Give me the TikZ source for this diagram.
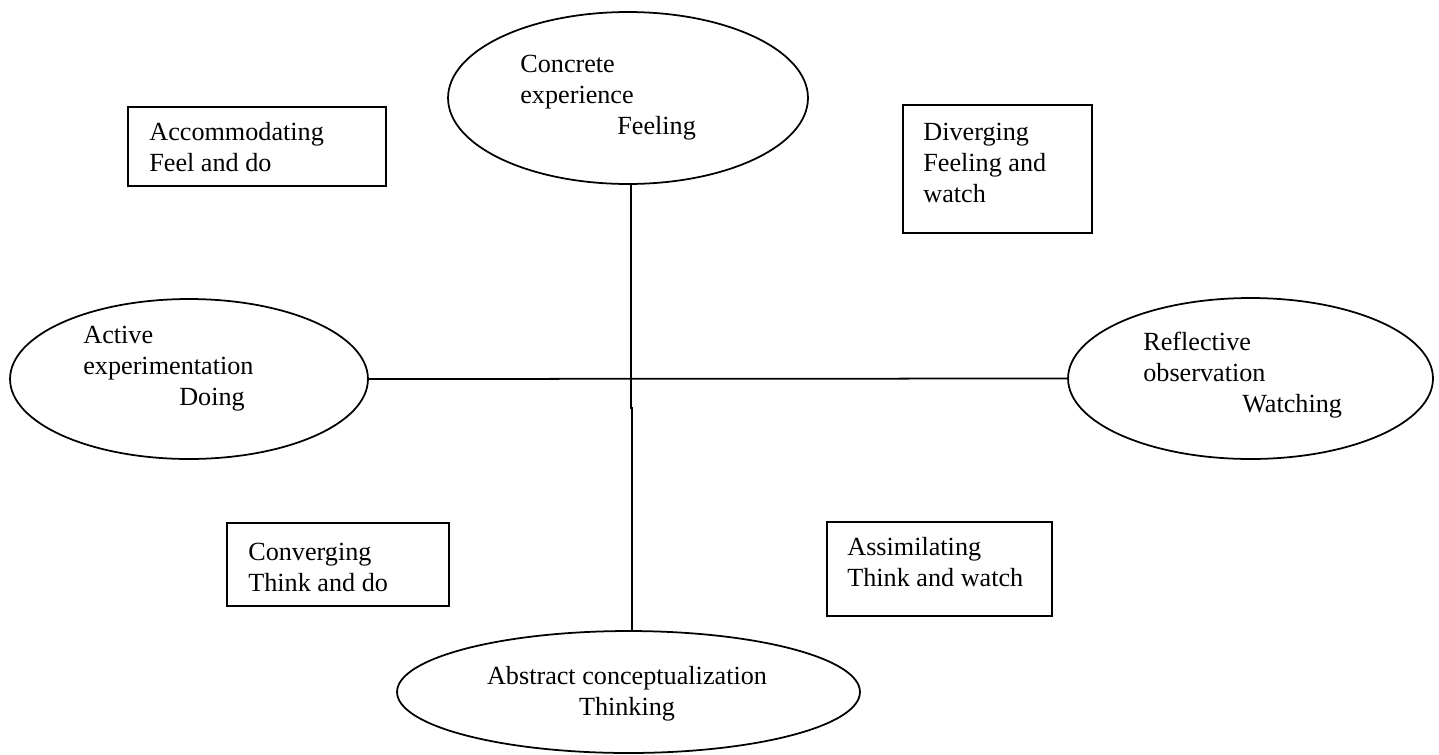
\documentclass[tikz,border=0pt]{standalone}
\usepackage{fontspec}
\setmainfont{Liberation Serif}
\usetikzlibrary{shapes.geometric}

\tikzset{
  stage/.style={draw, ellipse, line width=1pt, inner sep=0pt, outer sep=0pt},
  stylebox/.style={draw, rectangle, line width=1pt, inner sep=0pt, outer sep=0pt},
  txt/.style={font=\fontsize{14.9}{17.64}\selectfont, align=left, inner sep=0pt, anchor=north west},
  axis/.style={line width=1pt}
}

\begin{document}
\begin{tikzpicture}[x=0.02cm, y=-0.02cm]
\useasboundingbox (0,0) rectangle (1439,754);

% the four learning stages
\node[stage, minimum width=7.2cm,  minimum height=3.44cm] (ce) at (628,98) {};
\node[stage, minimum width=7.16cm, minimum height=3.2cm]  (ae) at (189,379) {};
\node[stage, minimum width=7.3cm,  minimum height=3.22cm] (ro) at (1250.5,378.5) {};
\node[stage, minimum width=9.26cm, minimum height=2.44cm] (ac) at (628.5,692) {};

\node[txt] (cet) at (520,50.35) {\strut Concrete\\experience\\\hspace*{1.94cm}Feeling};
\node[txt] (aet) at (83,321.35) {\strut Active\\experimentation\\\hspace*{1.92cm}Doing};
\node[txt] (rot) at (1143,328.35) {\strut Reflective\\observation\\\hspace*{1.98cm}Watching};
\node[txt, align=center, anchor=north] (act) at (627,662.35) {\strut Abstract conceptualization\\Thinking};

% the two axes
\draw[axis] (ae.east) -- (ro.west);
\coordinate (j1) at (631,409);
\coordinate (j2) at (632,407);
\draw[axis] (ce.south -| j1) -- (j1);
\draw[axis] (j2) -- (j2 |- ac.north);

% the four learning styles
\node[stylebox, minimum width=5.16cm, minimum height=1.58cm] (acc) at (257,146.5) {};
\node[stylebox, minimum width=3.78cm, minimum height=2.56cm] (div) at (997.5,169) {};
\node[stylebox, minimum width=4.44cm, minimum height=1.66cm] (con) at (338,564.5) {};
\node[stylebox, minimum width=4.5cm,  minimum height=1.88cm] (ass) at (939.5,569) {};

\node[txt] (acct) at (149,118.35) {\strut Accommodating\\Feel and do};
\node[txt] (divt) at (923,118.35) {\strut Diverging\\Feeling and\\watch};
\node[txt] (cont) at (248,538.35) {\strut Converging\\Think and do};
\node[txt] (asst) at (847,533.35) {\strut Assimilating\\Think and watch};
\end{tikzpicture}
\end{document}
